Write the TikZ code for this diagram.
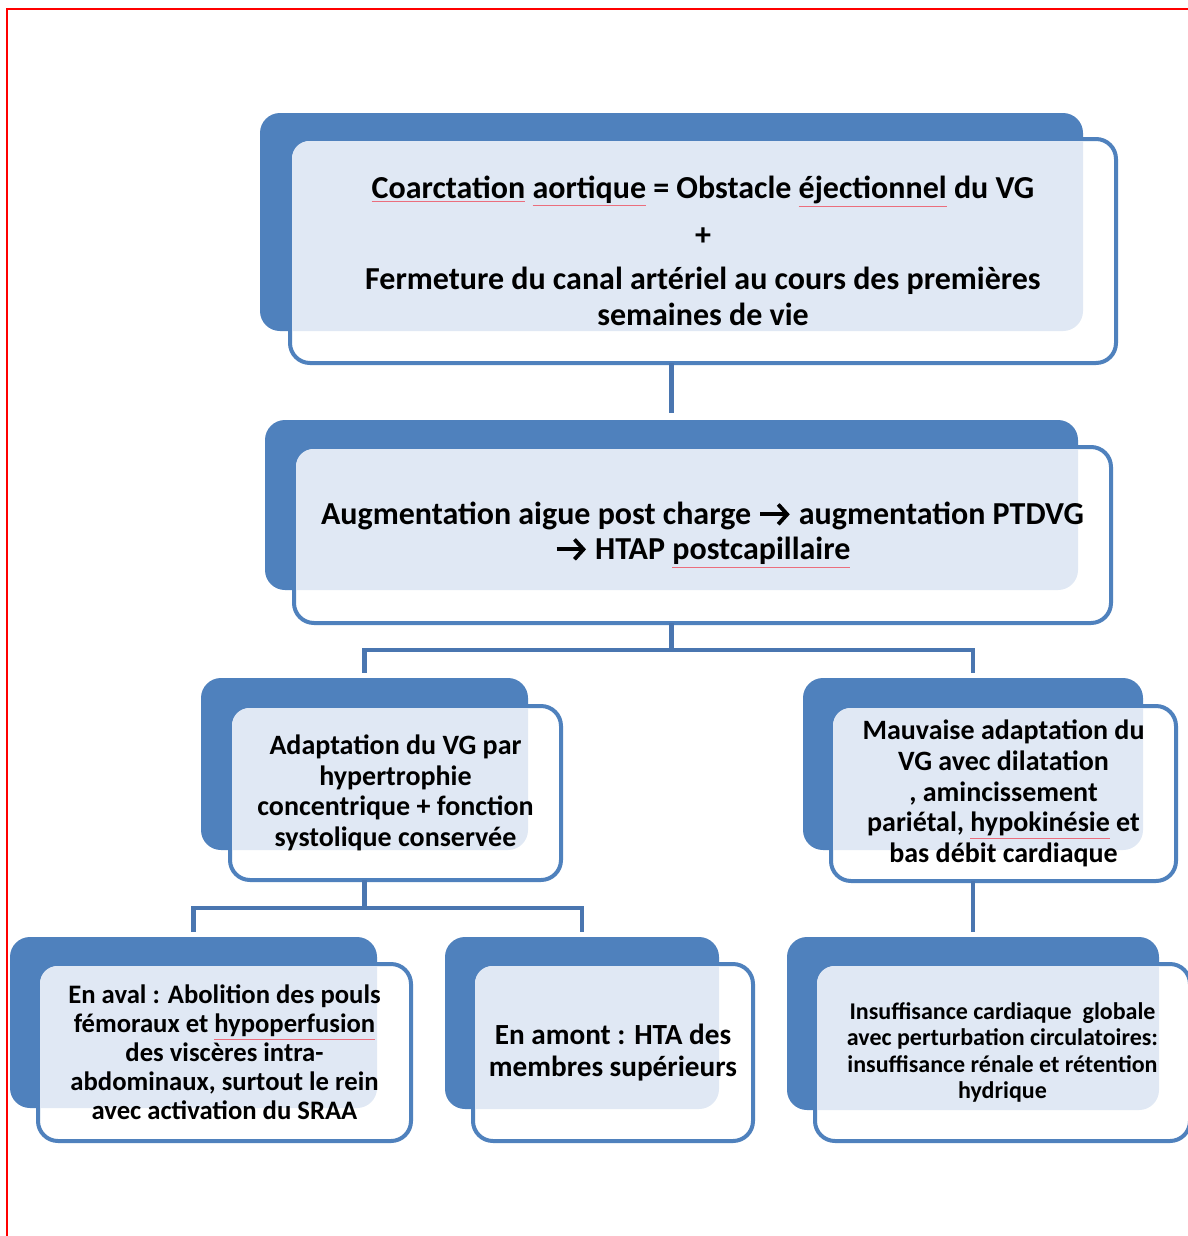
\documentclass[tikz,border=0pt]{standalone}
\usepackage{fontspec}
\usetikzlibrary{arrows.meta}
\setmainfont{Carlito}
\definecolor{boxblue}{RGB}{79,129,189}
\definecolor{linkblue}{RGB}{74,118,176}
\definecolor{dotblue}{RGB}{224,232,244}
\definecolor{spellred}{RGB}{235,110,125}
\newcommand\spl[1]{{\color{spellred}\underline{\textcolor{black}{#1}}}}
\newcommand\rarr{\tikz[baseline=0pt, x=1em, y=1em]{\draw[black, line width=0.12em, -{Straight Barb[length=0.28em, width=0.62em, line width=0.12em]}] (0,0.33) -- (0.92,0.33);}}
\tikzset{
  backbox/.style={fill=boxblue, rounded corners=15pt, inner sep=0pt, outer sep=0pt, draw=none},
  frontbox/.style={draw=boxblue, fill=white, line width=3pt, rounded corners=15pt, inner sep=0pt, outer sep=0pt},
  link/.style={draw=linkblue, line width=3.4pt},
  boxtext/.style={align=center, text=black, inner sep=0pt}
}
\newcommand\cbox[9]{%
  \node[backbox, minimum width={(#4-#2)*0.75pt}, minimum height={(#5-#3)*0.75pt}] (#1b) at ({(#2+#4)/2},{(#3+#5)/2}) {};
  \node[frontbox, minimum width={(#8-#6)*0.75pt-3pt}, minimum height={(#9-#7)*0.75pt-3pt}] (#1f) at ({(#6+#8)/2},{(#7+#9)/2}) {};
  \begin{scope}
    \clip[rounded corners=15pt] (#2,#3) rectangle (#4,#5);
    \fill[dotblue, rounded corners=13pt] (#6+4,#7+4) rectangle (#8-4,#9-4);
  \end{scope}
}
\begin{document}
\begin{tikzpicture}[x=0.75pt, y=-0.75pt]
\useasboundingbox (0,0) rectangle (1188,1236);
\fill[white] (0,0) rectangle (1188,1236);
\draw[red, line width=2pt] (7,1240) -- (7,9) -- (1195,9);

\cbox{B1}{260}{113}{1083}{331}{288}{137}{1118}{365}
\cbox{B2}{265}{420}{1078}{590}{292}{445}{1113}{625}
\cbox{B3}{201}{678}{528}{850}{228}{704}{563}{882}
\cbox{B4}{803}{678}{1143}{850}{829}{704}{1178}{883}
\cbox{B5}{10}{937}{377}{1108}{36}{962}{413}{1143}
\cbox{B6}{445}{937}{719}{1109}{471}{962}{755}{1143}
\cbox{B7}{787}{937}{1159}{1110}{813}{962}{1192}{1143}

\node[boxtext, font=\bfseries\fontsize{24}{27}\selectfont] (t1) at (B1f.center)
  {\spl{Coarctation} \spl{aortique} = Obstacle \spl{éjectionnel} du VG\\[8pt] +\\[6pt] Fermeture du canal artériel au cours des premières\\ semaines de vie};
\node[boxtext, font=\bfseries\fontsize{24}{26.25}\selectfont] (t2) at (B2f.center)
  {Augmentation aigue post charge \rarr{} augmentation PTDVG\\ \rarr{} HTAP \spl{postcapillaire}};
\node[boxtext, font=\bfseries\fontsize{21}{22.9}\selectfont] (t3) at (B3f.center)
  {Adaptation du VG par\\ hypertrophie\\ concentrique + fonction\\ systolique conservée};
\node[boxtext, font=\bfseries\fontsize{21}{23}\selectfont] (t4) at (B4f.center)
  {Mauvaise adaptation du\\ VG avec dilatation\\ , amincissement\\ pariétal, \spl{hypokinésie} et\\ bas débit cardiaque};
\node[boxtext, font=\bfseries\fontsize{20}{21.75}\selectfont] (t5) at (B5f.center)
  {En aval : Abolition des pouls\\ fémoraux et \spl{hypoperfusion}\\ des viscères intra-\\ abdominaux, surtout le rein\\ avec activation du SRAA};
\node[boxtext, font=\bfseries\fontsize{21.9}{24}\selectfont] (t6) at (B6f.center)
  {En amont : HTA des\\ membres supérieurs};
\node[boxtext, font=\bfseries\fontsize{18}{19.9}\selectfont] (t7) at (B7f.center)
  {Insuffisance cardiaque \ globale\\ avec perturbation circulatoires:\\ insuffisance rénale et rétention\\ hydrique};

\draw[link, shorten >=5pt] (B1b.center |- B1f.south) -- (B2b.north);
\coordinate (j1) at (B2b.center |- 0,650);
\draw[link] (B2b.center |- B2f.south) -- (j1);
\draw[link, shorten >=4pt] (j1) -| (B3b.north);
\draw[link, shorten >=4pt] (j1) -| (B4b.north);
\coordinate (j2) at (B3b.center |- 0,908);
\draw[link] (B3b.center |- B3f.south) -- (j2);
\draw[link, shorten >=4pt] (j2) -| (B5b.north);
\draw[link, shorten >=4pt] (j2) -| (B6b.north);
\draw[link, shorten >=4pt] (B4b.center |- B4f.south) -- (B7b.north);
\end{tikzpicture}
\end{document}
